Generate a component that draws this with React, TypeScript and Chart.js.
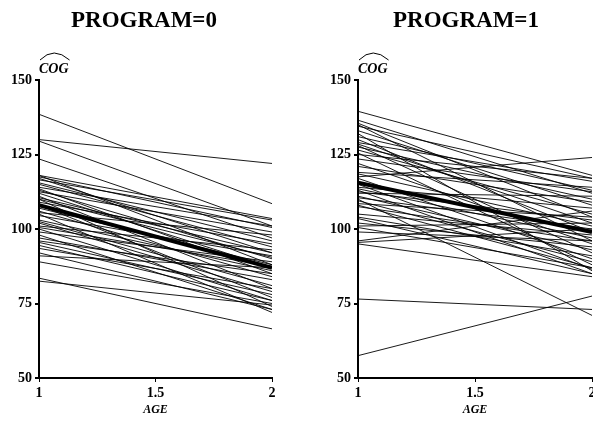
import React, { useEffect, useRef } from "react";
import { Chart, registerables } from "chart.js";

Chart.register(...registerables);

const ageTicks = [1, 1.5, 2];
const cogTicks = [50, 75, 100, 125, 150];

// PROGRAM=0: fitted COG at AGE=1 and AGE=2 for each child
const p0Start = [138.5, 130, 129.5, 123.5, 118, 117.5, 117, 118, 116.5, 115, 114, 113.5, 113, 112.5, 112, 111, 110.5, 110, 109, 108, 107, 106, 105, 104.5, 103, 102, 101, 100, 99, 98, 97, 96, 95.5, 94.5, 93.5, 92, 91, 89, 83.5, 82.5, 105.5, 102.5, 110, 115.5, 100.5];
const p0End = [108.5, 122, 101, 97, 103.5, 100.5, 92, 88, 103, 94, 101, 85, 90, 99, 87, 80, 92, 74, 95, 77, 88, 84, 72, 91, 86, 79, 93, 76, 89, 73, 83, 85, 78, 76, 80, 73, 87, 75, 66.5, 74.5, 98, 81, 90.5, 96, 87.5];
const p0Mean = [108, 87];

// PROGRAM=1
const p1Start = [139.5, 136.5, 135.5, 135, 134.5, 133, 132, 131, 130, 129, 128, 127.5, 126.5, 125.5, 125, 122, 121, 119, 118.5, 117.5, 117, 114, 113.5, 113, 112.5, 112, 111, 110.5, 110, 109.5, 108.5, 108, 107.5, 105, 104, 103.5, 102, 101, 100.5, 99, 96, 95.5, 95, 76.5, 57.5, 123.5, 128.5, 115];
const p1End = [118, 112, 104, 96, 117, 108, 86, 113, 99, 116, 92, 110, 105, 88, 117, 95, 109, 114, 101, 124, 90, 107, 97, 85, 103, 111, 93, 100, 71, 89, 104, 87, 96, 98, 91, 85, 94, 102, 87, 96, 106, 100, 84, 73, 77.5, 112.5, 102, 86.5];
const p1Mean = [115.5, 99];

const SERIF = "'Liberation Serif', 'DejaVu Serif', serif";

const hatPlugin = {
  id: "cogHat",
  afterDraw(chart: any) {
    const ctx = chart.ctx;
    const x0 = chart.chartArea.left;
    ctx.save();
    ctx.fillStyle = "#000";
    ctx.strokeStyle = "#000";
    ctx.font = `italic bold 14px ${SERIF}`;
    ctx.textBaseline = "alphabetic";
    ctx.textAlign = "left";
    ctx.fillText("COG", x0, 73);
    const w = ctx.measureText("COG").width;
    ctx.lineWidth = 1;
    ctx.beginPath();
    ctx.moveTo(x0 + 1, 60);
    ctx.quadraticCurveTo(x0 + w / 2, 46, x0 + w + 1, 60);
    ctx.stroke();
    ctx.restore();
  },
};

function buildDatasets(starts: number[], ends: number[], mean: number[]) {
  const ds: any[] = starts.map((s, i) => ({
    data: [
      { x: ageTicks[0], y: s },
      { x: ageTicks[2], y: ends[i] },
    ],
    borderColor: "#000",
    borderWidth: 0.9,
    pointRadius: 0,
  }));
  ds.push({
    data: [
      { x: ageTicks[0], y: mean[0] },
      { x: ageTicks[2], y: mean[1] },
    ],
    borderColor: "#000",
    borderWidth: 4,
    pointRadius: 0,
  });
  return ds;
}

function Panel(props: { starts: number[]; ends: number[]; mean: number[]; yWidth: number; width: number; rightPad: number }) {
  const ref = useRef<HTMLCanvasElement>(null);
  useEffect(() => {
    if (!ref.current) return;
    const chart = new Chart(ref.current, {
      type: "line",
      data: { datasets: buildDatasets(props.starts, props.ends, props.mean) },
      plugins: [hatPlugin],
      options: {
        responsive: false,
        animation: false,
        devicePixelRatio: 1,
        layout: { padding: { top: 80, right: props.rightPad, left: 0, bottom: 0 } },
        plugins: { legend: { display: false }, tooltip: { enabled: false } },
        scales: {
          x: {
            type: "linear",
            min: 1,
            max: 2,
            afterBuildTicks: (s: any) => {
              s.ticks = ageTicks.map((v) => ({ value: v }));
            },
            afterFit: (s: any) => {
              s.height = 47;
            },
            grid: { drawOnChartArea: false, drawTicks: true, tickLength: 4, color: "#000", lineWidth: 1 },
            border: { display: true, color: "#000", width: 2 },
            ticks: {
              color: "#000",
              padding: 3,
              maxRotation: 0,
              font: { family: SERIF, weight: "bold", size: 14 },
              callback: (v: any) => String(v),
            },
            title: {
              display: true,
              text: "AGE",
              color: "#000",
              font: { family: SERIF, weight: "bold", style: "italic", size: 12 },
              padding: { top: 0, bottom: 8 },
            },
          },
          y: {
            type: "linear",
            min: 50,
            max: 150,
            afterBuildTicks: (s: any) => {
              s.ticks = cogTicks.map((v) => ({ value: v }));
            },
            afterFit: (s: any) => {
              s.width = props.yWidth;
            },
            grid: { drawOnChartArea: false, drawTicks: true, tickLength: 4, color: "#000", lineWidth: 2 },
            border: { display: true, color: "#000", width: 2 },
            ticks: {
              color: "#000",
              padding: 3,
              font: { family: SERIF, weight: "bold", size: 14 },
            },
          },
        },
      } as any,
    });
    return () => chart.destroy();
  }, []);
  return <canvas ref={ref} width={props.width} height={425} style={{ display: "block" }} />;
}

const titleStyle: React.CSSProperties = {
  position: "absolute",
  top: 6,
  fontFamily: SERIF,
  fontWeight: "bold",
  fontSize: 23,
  lineHeight: "28px",
  textAlign: "center",
  color: "#000",
  whiteSpace: "nowrap",
};

export default function App() {
  return (
    <div style={{ position: "fixed", left: 0, top: 0, width: 593, height: 425, overflow: "hidden", background: "#fff" }}>
      <div style={{ position: "absolute", left: 0, top: 0, width: 290, height: 425 }}>
        <Panel starts={p0Start} ends={p0End} mean={p0Mean} yWidth={39} width={290} rightPad={18} />
      </div>
      <div style={{ position: "absolute", left: 300, top: 0, width: 310, height: 425 }}>
        <Panel starts={p1Start} ends={p1End} mean={p1Mean} yWidth={58} width={310} rightPad={18} />
      </div>
      <div style={{ ...titleStyle, left: 44, width: 200 }}>PROGRAM=0</div>
      <div style={{ ...titleStyle, left: 366, width: 200 }}>PROGRAM=1</div>
    </div>
  );
}
